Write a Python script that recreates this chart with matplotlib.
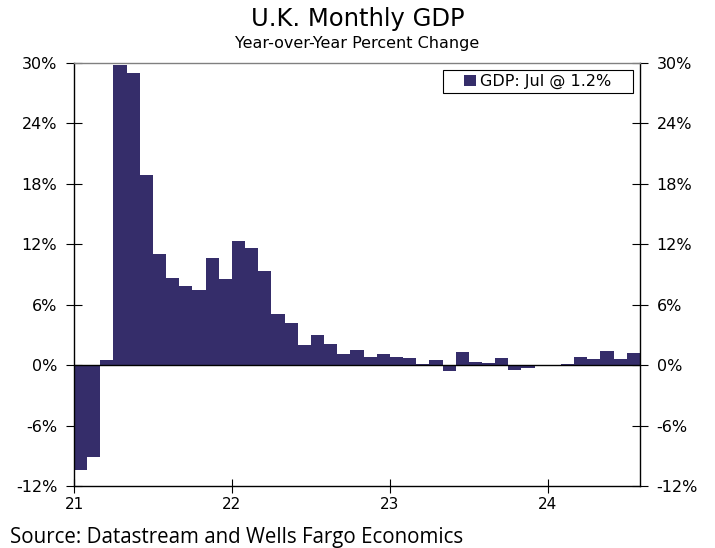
import matplotlib.pyplot as plt
import numpy as np
from matplotlib.patches import Rectangle

# UK monthly GDP, year-over-year % change, Jan 2021 - Jul 2024
gdp_yoy = [
    -10.4, -9.1, 0.5, 29.8, 29.0, 18.9, 11.0, 8.7, 7.9, 7.5, 10.6, 8.6,   # 2021
    12.3, 11.6, 9.4, 5.1, 4.2, 2.0, 3.0, 2.1, 1.1, 1.5, 0.8, 1.1,        # 2022
    0.8, 0.7, 0.1, 0.5, -0.6, 1.3, 0.3, 0.2, 0.7, -0.5, -0.3, 0.0,       # 2023
    0.0, 0.1, 0.8, 0.6, 1.4, 0.6, 1.2,                                   # 2024
]
year_labels = ['21', '22', '23', '24']
y_ticks = [-12, -6, 0, 6, 12, 18, 24, 30]
legend_label = 'GDP: Jul @ 1.2%'

bar_color = '#352d6a'

fig = plt.figure(figsize=(7.15, 5.48), dpi=100)
ax = fig.add_axes([0.1035, 0.113, 0.7915, 0.772])

x = np.arange(len(gdp_yoy))
ax.bar(x, gdp_yoy, width=1.0, align='edge', color=bar_color,
       linewidth=0, label=legend_label, zorder=2)
ax.axhline(0, color='black', linewidth=1.0, zorder=3)

ax.set_xlim(0, len(gdp_yoy))
ax.set_ylim(-12, 30)
ax.set_xticks(np.arange(len(year_labels)) * 12)
ax.set_xticklabels(year_labels, fontsize=11)
ax.set_yticks(y_ticks)
ax.set_yticklabels([f'{v}%' for v in y_ticks], fontsize=11.5)
ax.tick_params(axis='y', direction='inout', length=12, width=0.8,
               left=True, right=True, labelleft=True, labelright=True, pad=6)
ax.tick_params(axis='x', direction='inout', length=10, width=0.8, pad=3)

for side in ['left', 'right', 'bottom']:
    ax.spines[side].set_color('black')
    ax.spines[side].set_linewidth(1.0)
ax.spines['top'].set_color('#808080')
ax.spines['top'].set_linewidth(1.0)

# legend box with wide side padding, like the original
box_x0, box_x1, box_y0, box_y1 = 0.652, 0.988, 0.929, 0.9835
ax.add_patch(Rectangle((box_x0, box_y0), box_x1 - box_x0, box_y1 - box_y0,
                       transform=ax.transAxes, facecolor='white', edgecolor='black',
                       linewidth=0.8, zorder=4))
leg = ax.legend(loc='center', bbox_to_anchor=((box_x0 + box_x1) / 2, (box_y0 + box_y1) / 2),
                fontsize=11.5, frameon=False, handlelength=0.7, handleheight=0.7,
                handletextpad=0.3, borderpad=0, borderaxespad=0)
leg.set_zorder(5)

fig.text(0.5, 0.965, 'U.K. Monthly GDP', ha='center', va='center', fontsize=17.5)
fig.text(0.5, 0.921, 'Year-over-Year Percent Change', ha='center', va='center', fontsize=11.5)
fig.text(0.014, 0.02, 'Source: Datastream and Wells Fargo Economics', ha='left', va='center',
         fontsize=14.8, family='Open Sans')

plt.savefig('out.png', dpi=100)
